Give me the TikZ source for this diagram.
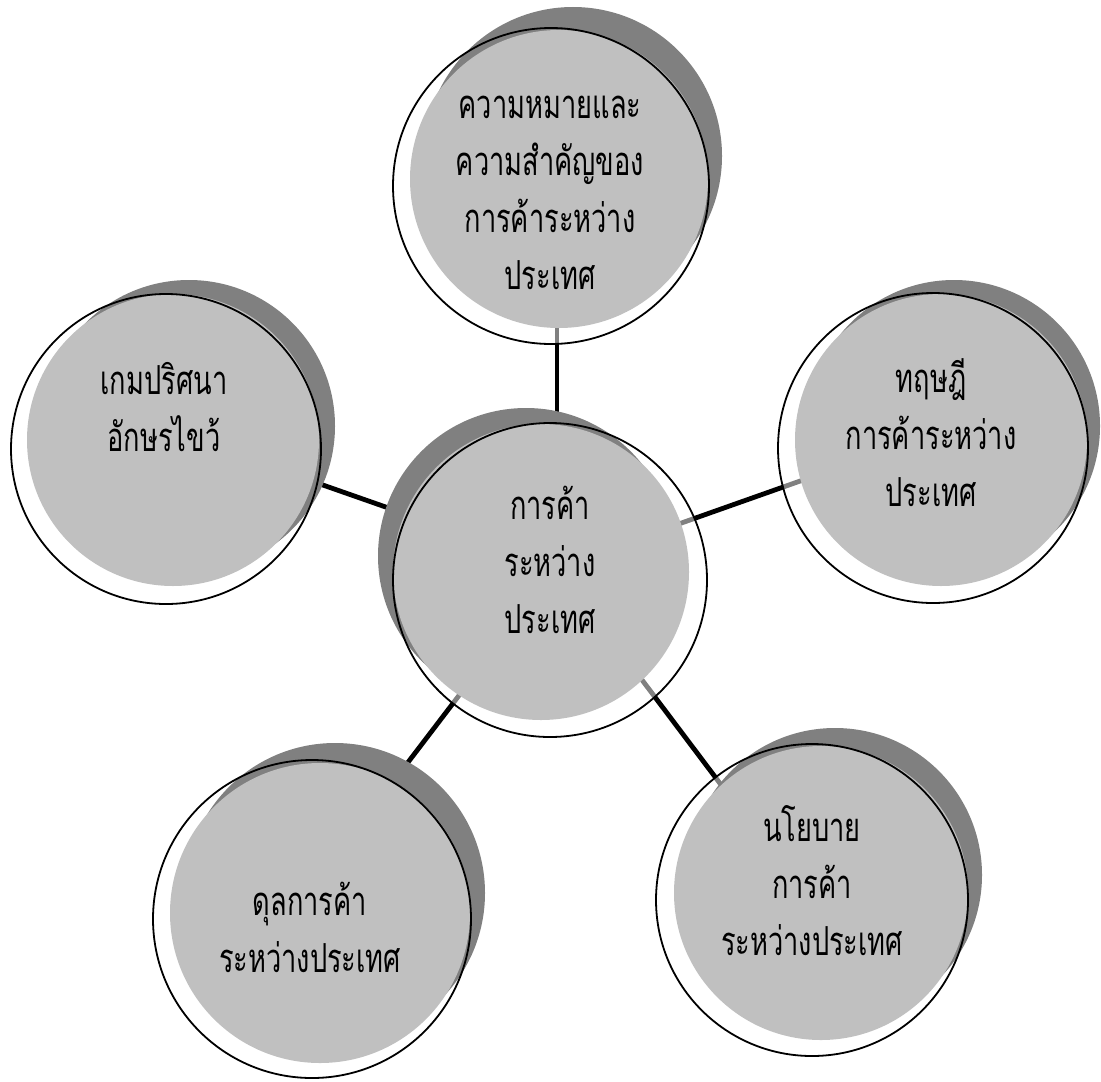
\documentclass[tikz,border=0pt]{standalone}
\usepackage{fontspec}
\newfontfamily\thaifont[Script=Thai,FakeStretch=0.68]{Loma}
\definecolor{darkshade}{RGB}{128,128,128}
\definecolor{lightshade}{RGB}{192,192,192}

\begin{document}
\begin{tikzpicture}[x=0.5pt, y=-0.5pt,
    rimfill/.style={circle, fill=white, fill opacity=0.5, inner sep=0pt, outer sep=0pt},
    dropfill/.style={circle, fill=darkshade, inner sep=0pt, outer sep=0pt},
    facefill/.style={circle, fill=lightshade, inner sep=0pt, outer sep=0pt},
    rimline/.style={circle, draw=black, line width=0.9pt, inner sep=0pt, outer sep=0pt},
    thaitext/.style={align=center, text=black, font=\thaifont\fontsize{20}{28.5}\selectfont},
    link/.style={draw=black, line width=2.4pt}
]
\useasboundingbox (0,0) rectangle (1101,1081);

% connectors, under the bubbles
\coordinate (hub) at (557,567);
\coordinate (T-end) at (557,300);
\coordinate (L-end) at (300,477);
\coordinate (R-end) at (820,474);
\coordinate (BL-end) at (380,799);
\coordinate (BR-end) at (740,810);
\draw [link] (hub) -- (T-end);
\draw [link] (hub) -- (L-end);
\draw [link] (hub) -- (R-end);
\draw [link] (hub) -- (BL-end);
\draw [link] (hub) -- (BR-end);

% top
\node (T-rim) [rimfill, minimum size=158pt] at (551,186) {};
\node (T-drop) [dropfill, minimum size=149pt] at (573,156) {};
\node (T-face) [facefill, minimum size=149pt] at (559,179) {};
\node (T-line) [rimline, minimum size=158pt] at (551,186) {};
\node (T) [thaitext] at (550,193) {ความหมายและ\\ความสำคัญของ\\การค้าระหว่าง\\ประเทศ};

% left
\node (L-rim) [rimfill, minimum size=155pt] at (166,449) {};
\node (L-drop) [dropfill, minimum size=146pt] at (189,426) {};
\node (L-face) [facefill, minimum size=146pt] at (173,440) {};
\node (L-line) [rimline, minimum size=155pt] at (166,449) {};
\node (L) [thaitext] at (164,407) {เกมปริศนา\\อักษรไขว้};

% right
\node (R-rim) [rimfill, minimum size=155pt] at (933,448) {};
\node (R-drop) [dropfill, minimum size=146pt] at (954,426) {};
\node (R-face) [facefill, minimum size=146pt] at (941,440) {};
\node (R-line) [rimline, minimum size=155pt] at (933,448) {};
\node (R) [thaitext] at (931,433) {ทฤษฎี\\การค้าระหว่าง\\ประเทศ};

% bottom left
\node (BL-rim) [rimfill, minimum size=159pt] at (312,919) {};
\node (BL-drop) [dropfill, minimum size=150pt] at (335,893) {};
\node (BL-face) [facefill, minimum size=150pt] at (320,913) {};
\node (BL-line) [rimline, minimum size=159pt] at (312,919) {};
\node (BL) [thaitext] at (310,927) {ดุลการค้า\\ระหว่างประเทศ};

% bottom right
\node (BR-rim) [rimfill, minimum size=156pt] at (812,900) {};
\node (BR-drop) [dropfill, minimum size=147pt] at (835,875) {};
\node (BR-face) [facefill, minimum size=147pt] at (821,893) {};
\node (BR-line) [rimline, minimum size=156pt] at (812,900) {};
\node (BR) [thaitext] at (812,881) {นโยบาย\\การค้า\\ระหว่างประเทศ};

% centre, shadow to the upper left
\node (C-rim) [rimfill, minimum size=157pt] at (550,580) {};
\node (C-drop) [dropfill, minimum size=148pt] at (526,556) {};
\node (C-face) [facefill, minimum size=148pt] at (541,572) {};
\node (C-line) [rimline, minimum size=157pt] at (550,580) {};
\node (C) [thaitext] at (550,560) {การค้า\\ระหว่าง\\ประเทศ};

\end{tikzpicture}
\end{document}
